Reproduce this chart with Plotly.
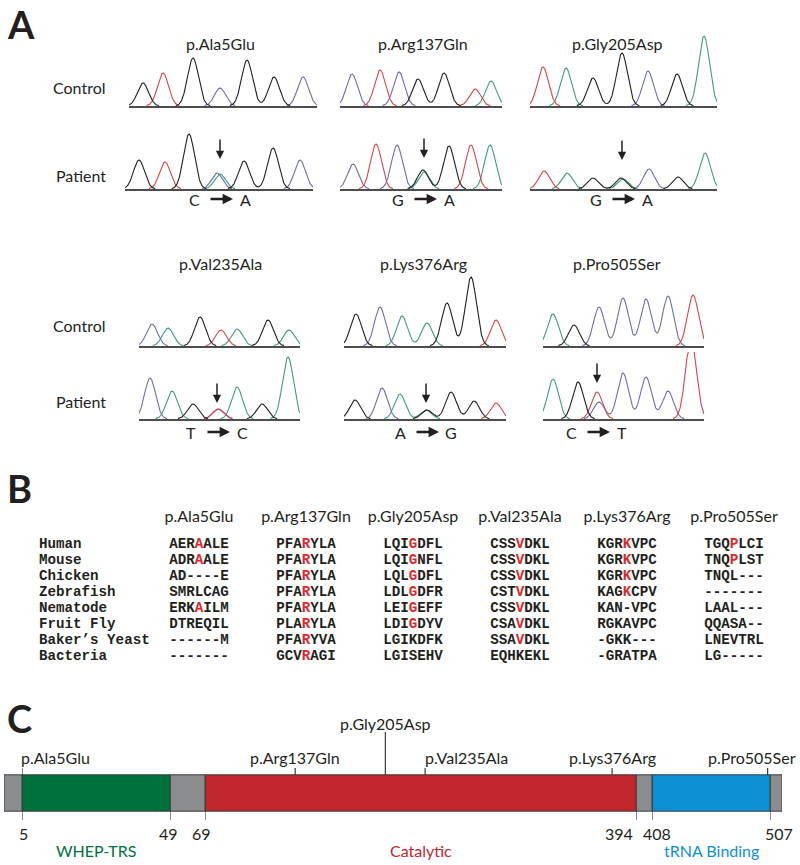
import numpy as np
import plotly.graph_objects as go

FIG_W, FIG_H = 800, 865

# ------------------------------------------------------------------ DATA
MUTATIONS = ["p.Ala5Glu", "p.Arg137Gln", "p.Gly205Asp",
             "p.Val235Ala", "p.Lys376Arg", "p.Pro505Ser"]
CHANGES = [("C", "A"), ("G", "A"), ("G", "A"), ("T", "C"), ("A", "G"), ("C", "T")]

# chromatogram peaks: base call, position (scan units), height (signal units)
ala_ctrl_bases = list("GTGCGGC")
ala_ctrl_pos = [14, 34, 64, 91, 118, 145, 174]
ala_ctrl_h = [23, 33, 48, 18, 46, 29, 29]
ala_pat_bases = list("GTGCAGGC")
ala_pat_pos = [14, 40, 64, 92, 95, 119, 148, 175]
ala_pat_h = [29, 27, 55, 16, 15, 28, 41, 29]

arg_ctrl_bases = list("CTCGGTA")
arg_ctrl_pos = [12, 40, 59, 78, 104, 135, 151]
arg_ctrl_h = [32, 36, 34, 27, 33, 17, 25]
arg_pat_bases = list("CTCGAGTA")
arg_pat_pos = [13, 36, 57, 83, 84, 109, 131, 150]
arg_pat_h = [25, 45, 44, 19, 17, 43, 44, 44]

gly_ctrl_bases = list("TAGGCGA")
gly_ctrl_pos = [13, 36, 63, 92, 118, 147, 174]
gly_ctrl_h = [39, 38, 28, 53, 35, 32, 70]
gly_pat_bases = list("TAGGACGA")
gly_pat_pos = [14, 37, 63, 91, 93, 119, 148, 175]
gly_pat_h = [18, 16, 11, 11, 10, 20, 12, 36]

val_ctrl_bases = list("CAGTAGA")
val_ctrl_pos = [13, 29, 61, 82, 98, 129, 150]
val_ctrl_h = [22, 18, 29, 16, 17, 26, 16]
val_pat_bases = list("CAGTCAGA")
val_pat_pos = [11, 33, 54, 79, 79.5, 98, 123, 149]
val_pat_h = [41, 28, 15, 10, 10, 32, 15, 62]

lys_ctrl_bases = list("GCAAGGT")
lys_ctrl_pos = [12, 36, 58, 83, 103, 127, 152]
lys_ctrl_h = [32, 39, 30, 23, 43, 69, 26]
lys_pat_bases = list("GCAAGGGT")
lys_pat_pos = [11, 38, 56, 82, 83, 107, 130, 152]
lys_pat_h = [19, 31, 25, 9, 9, 27, 18, 16]

pro_ctrl_bases = list("AGCCCCT")
pro_ctrl_pos = [10, 31, 56, 80, 103, 125, 150]
pro_ctrl_h = [32, 21, 39, 48, 47, 50, 51]
pro_pat_bases = list("AGTCCCCT")
pro_pat_pos = [10, 35, 54, 56, 80, 103, 125, 148]
pro_pat_h = [40, 37, 27, 17, 46, 42, 28, 80]

MUT_SCAN_POS = [95, 84, 92, 78, 82, 54]      # where the arrow points
ARROW_TIP = [30, 31, 29, 16, 16, 36]         # signal level of the arrow tip

# alignment (panel B)
SPECIES = ["Human", "Mouse", "Chicken", "Zebrafish", "Nematode",
           "Fruit Fly", "Baker\u2019s Yeast", "Bacteria"]
ALIGN_ALA5 = ["AERAALE", "ADRAALE", "AD----E", "SMRLCAG", "ERKAILM", "DTREQIL", "------M", "-------"]
ALIGN_ARG137 = ["PFARYLA", "PFARYLA", "PFARYLA", "PFARYLA", "PFARYLA", "PLARYLA", "PFARYVA", "GCVRAGI"]
ALIGN_GLY205 = ["LQIGDFL", "LQIGNFL", "LQLGDFL", "LDLGDFR", "LEIGEFF", "LDIGDYV", "LGIKDFK", "LGISEHV"]
ALIGN_VAL235 = ["CSSVDKL", "CSSVDKL", "CSSVDKL", "CSTVDKL", "CSSVDKL", "CSAVDKL", "SSAVDKL", "EQHKEKL"]
ALIGN_LYS376 = ["KGRKVPC", "KGRKVPC", "KGRKVPC", "KAGKCPV", "KAN-VPC", "RGKAVPC", "-GKK---", "-GRATPA"]
ALIGN_PRO505 = ["TGQPLCI", "TNQPLST", "TNQL---", "-------", "LAAL---", "QQASA--", "LNEVTRL", "LG-----"]
HL_ALA5 = [1, 1, 0, 0, 1, 0, 0, 0]
HL_ARG137 = [1, 1, 1, 1, 1, 1, 1, 1]
HL_GLY205 = [1, 1, 1, 1, 1, 1, 0, 0]
HL_VAL235 = [1, 1, 1, 1, 1, 1, 1, 0]
HL_LYS376 = [1, 1, 1, 1, 0, 0, 0, 0]
HL_PRO505 = [1, 1, 0, 0, 0, 0, 0, 0]
HL_INDEX = 3

# protein schematic (panel C)
SEG_START = [1, 5, 49, 69, 394, 408, 507]
SEG_END = [5, 49, 69, 394, 408, 507, 509]
SEG_KIND = ["linker", "WHEP-TRS", "linker", "Catalytic", "linker", "tRNA Binding", "linker"]
BOUNDARIES = [5, 49, 69, 394, 408, 507]
MUT_RESIDUES = [5, 137, 205, 235, 376, 505]
DOMAINS = ["WHEP-TRS", "Catalytic", "tRNA Binding"]

# ------------------------------------------------------------------ STYLE / LAYOUT
FONT = "Lato, 'Open Sans', sans-serif"
MONO = "'Liberation Mono', 'Courier New', monospace"
TXT = "#231f20"
BASE_COLORS = {"A": "#3a9f7c", "C": "#6e6eac", "G": "#231f20", "T": "#dc4448"}
SIGMA = 5.5
HL_RED = "#e3262b"
KIND_COLORS = {"linker": "#8b8c8e", "WHEP-TRS": "#00703c",
               "Catalytic": "#c1272d", "tRNA Binding": "#0b91d4"}


def px(v):
    return v / FIG_W


def py(v):
    return 1 - v / FIG_H


CHROMS = [
    # bases, pos, heights, (x0, x1), baseline, window height
    (ala_ctrl_bases, ala_ctrl_pos, ala_ctrl_h, (129, 317), 106, 75),
    (arg_ctrl_bases, arg_ctrl_pos, arg_ctrl_h, (340, 502), 106, 75),
    (gly_ctrl_bases, gly_ctrl_pos, gly_ctrl_h, (530, 717), 106, 75),
    (ala_pat_bases, ala_pat_pos, ala_pat_h, (125, 313), 189, 75),
    (arg_pat_bases, arg_pat_pos, arg_pat_h, (340, 502), 189, 75),
    (gly_pat_bases, gly_pat_pos, gly_pat_h, (530, 717), 189, 75),
    (val_ctrl_bases, val_ctrl_pos, val_ctrl_h, (139, 300), 346, 75),
    (lys_ctrl_bases, lys_ctrl_pos, lys_ctrl_h, (344, 506), 346, 75),
    (pro_ctrl_bases, pro_ctrl_pos, pro_ctrl_h, (543, 704), 346, 75),
    (val_pat_bases, val_pat_pos, val_pat_h, (139, 300), 419, 67),
    (lys_pat_bases, lys_pat_pos, lys_pat_h, (344, 506), 419, 67),
    (pro_pat_bases, pro_pat_pos, pro_pat_h, (543, 704), 419, 67),
]
PATIENT_IDX = [3, 4, 5, 9, 10, 11]
CHANGE_DY = [10, 10, 10, 13, 13, 13]   # px below baseline
COL_CENTERS = [220, 423, 617]
TITLE_Y = [44, 263]
ROW_LABEL_Y = [(88, 175), (325, 401)]


def ax_names(i):
    s = "" if i == 1 else str(i)
    return "x" + s, "y" + s, "xaxis" + s, "yaxis" + s


fig = go.Figure()
layout = {}
annotations = []
shapes = []

# ------------------------------------------------------------------ PANEL A
for i, (bases, pos, hts, (x0, x1), base_y, win) in enumerate(CHROMS, start=1):
    xr, yr, xk, yk = ax_names(i)
    ext = x1 - x0
    layout[xk] = dict(domain=[px(x0), px(x1)], range=[0, ext], anchor=yr,
                      showline=True, linecolor="#4d4d4f", linewidth=1.6,
                      showticklabels=False, ticks="", showgrid=False,
                      zeroline=False, fixedrange=True)
    layout[yk] = dict(domain=[py(base_y), py(base_y - win)], range=[0, win],
                      anchor=xr, visible=False, fixedrange=True)
    xs = np.linspace(0, ext, 900)
    for b in ["A", "C", "T", "G"]:
        sig = np.zeros_like(xs)
        has = False
        for bb, p, h in zip(bases, pos, hts):
            if bb == b:
                sig += h * np.exp(-0.5 * ((xs - p) / SIGMA) ** 2)
                has = True
        if not has:
            continue
        yv = [float(v) if v > 0.35 else None for v in sig]
        fig.add_trace(go.Scatter(x=xs, y=yv, mode="lines",
                                 line=dict(color=BASE_COLORS[b], width=1.1),
                                 xaxis=xr, yaxis=yr, hoverinfo="skip"))

for k, ci in enumerate(PATIENT_IDX):
    xr, yr, _, _ = ax_names(ci + 1)
    base_y = CHROMS[ci][4]
    m = MUT_SCAN_POS[k]
    annotations.append(dict(xref=xr, yref=yr, x=m, y=ARROW_TIP[k], ax=0, ay=-21,
                            showarrow=True, arrowhead=2, arrowsize=1.1,
                            arrowwidth=1.5, arrowcolor=TXT, text="", standoff=0))
    fr, to = CHANGES[k]
    cy = py(base_y + CHANGE_DY[k])
    annotations.append(dict(xref=xr, yref="paper", x=m - 26, y=cy, text=fr, showarrow=False,
                            yanchor="middle",
                            font=dict(family=FONT, size=16, color=TXT)))
    annotations.append(dict(xref=xr, yref="paper", x=m + 25, y=cy, text=to, showarrow=False,
                            yanchor="middle",
                            font=dict(family=FONT, size=16, color=TXT)))
    annotations.append(dict(xref=xr, yref="paper", x=m + 13, y=cy, ax=-24, ay=0,
                            showarrow=True, arrowhead=2, arrowsize=0.8,
                            arrowwidth=2.6, arrowcolor=TXT, text="", standoff=0))

for r in range(2):
    for c in range(3):
        annotations.append(dict(xref="paper", yref="paper", x=px(COL_CENTERS[c]),
                                y=py(TITLE_Y[r]), text=MUTATIONS[r * 3 + c],
                                showarrow=False, xanchor="center", yanchor="middle",
                                font=dict(family=FONT, size=16, color=TXT)))
    for lab, yy in zip(["Control", "Patient"], ROW_LABEL_Y[r]):
        annotations.append(dict(xref="paper", yref="paper", x=px(108), y=py(yy),
                                text=lab, showarrow=False, xanchor="right",
                                yanchor="middle",
                                font=dict(family=FONT, size=16, color=TXT)))

# ------------------------------------------------------------------ PANEL B
COL0, COLSTEP = 199, 107
ROW0, ROWSTEP = 544, 16
layout["xaxis13"] = dict(domain=[0, 1], range=[-COL0 / COLSTEP, (FIG_W - COL0) / COLSTEP],
                         anchor="y13", visible=False, fixedrange=True)
layout["yaxis13"] = dict(domain=[py(665), py(500)],
                         range=[(665 - ROW0) / ROWSTEP, (500 - ROW0) / ROWSTEP],
                         anchor="x13", visible=False, fixedrange=True)

ALIGNS = [ALIGN_ALA5, ALIGN_ARG137, ALIGN_GLY205, ALIGN_VAL235, ALIGN_LYS376, ALIGN_PRO505]
HLS = [HL_ALA5, HL_ARG137, HL_GLY205, HL_VAL235, HL_LYS376, HL_PRO505]

bx, by, bt = [], [], []
for c, (al, hl) in enumerate(zip(ALIGNS, HLS)):
    for r, (seq, h) in enumerate(zip(al, hl)):
        if h:
            s = (seq[:HL_INDEX] + '<span style="color:%s">' % HL_RED + seq[HL_INDEX]
                 + "</span>" + seq[HL_INDEX + 1:])
        else:
            s = seq
        bx.append(c)
        by.append(r)
        bt.append("<b>" + s + "</b>")
fig.add_trace(go.Scatter(x=bx, y=by, text=bt, mode="text", textposition="middle center",
                         textfont=dict(family=MONO, size=14.2, color=TXT),
                         xaxis="x13", yaxis="y13", hoverinfo="skip"))
fig.add_trace(go.Scatter(x=[(39 - COL0) / COLSTEP] * len(SPECIES),
                         y=list(range(len(SPECIES))),
                         text=["<b>" + s + "</b>" for s in SPECIES], mode="text",
                         textposition="middle right",
                         textfont=dict(family=MONO, size=14.2, color=TXT),
                         xaxis="x13", yaxis="y13", hoverinfo="skip"))
fig.add_trace(go.Scatter(x=list(range(len(MUTATIONS))),
                         y=[(518 - ROW0) / ROWSTEP] * len(MUTATIONS),
                         text=MUTATIONS, mode="text", textposition="middle center",
                         textfont=dict(family=FONT, size=16, color=TXT),
                         xaxis="x13", yaxis="y13", hoverinfo="skip"))

# ------------------------------------------------------------------ PANEL C
SEG_PX = [4, 22, 170, 205, 636, 652, 770, 782]
BAR_TOP, BAR_BOT = 775, 811
layout["yaxis14"] = dict(domain=[py(BAR_BOT + 2), py(BAR_TOP - 2)], range=[-0.55, 0.55],
                         anchor="x14", visible=False, fixedrange=True)


def seg_axis(res):
    for k, (s, e) in enumerate(zip(SEG_START, SEG_END)):
        if s <= res < e:
            return "x%d" % (14 + k)
    return "x%d" % (14 + len(SEG_START) - 1)


for k, (s, e, kind) in enumerate(zip(SEG_START, SEG_END, SEG_KIND)):
    layout["xaxis%d" % (14 + k)] = dict(domain=[px(SEG_PX[k]), px(SEG_PX[k + 1])],
                                        range=[s, e], anchor="y14", visible=False,
                                        fixedrange=True)
    fig.add_trace(go.Bar(x=[e - s], base=[s], y=[0], orientation="h", width=1,
                         marker=dict(color=KIND_COLORS[kind],
                                     line=dict(color="#3a3a3c", width=1)),
                         xaxis="x%d" % (14 + k), yaxis="y14", hoverinfo="skip"))

NUM_XSHIFT = [1, -2, -3, -17, 5, 9]
for b, xs_ in zip(BOUNDARIES, NUM_XSHIFT):
    xr = seg_axis(b)
    shapes.append(dict(type="line", xref=xr, yref="paper", x0=b, x1=b,
                       y0=py(BAR_TOP), y1=py(820), line=dict(color="#3a3a3c", width=1.2)))
    annotations.append(dict(xref=xr, yref="paper", x=b, y=py(833), text=str(b),
                            showarrow=False, xanchor="center", yanchor="middle",
                            xshift=xs_, font=dict(family=FONT, size=16, color=TXT)))

LABEL_Y = [757, 757, 723, 757, 757, 757]
TICK_TOP = [768, 768, 732, 768, 768, 768]
LABEL_ANCHOR = ["left", "center", "center", "left", "center", "center"]
LABEL_XSHIFT = [-3, 0, 0, -2, 0, -16]
for r, name, ly, tt, anc, xsh in zip(MUT_RESIDUES, MUTATIONS, LABEL_Y, TICK_TOP,
                                     LABEL_ANCHOR, LABEL_XSHIFT):
    xr = seg_axis(r)
    shapes.append(dict(type="line", xref=xr, yref="paper", x0=r, x1=r,
                       y0=py(tt), y1=py(BAR_TOP), line=dict(color="#3a3a3c", width=1.2)))
    annotations.append(dict(xref=xr, yref="paper", x=r, y=py(ly), text=name,
                            showarrow=False, xanchor=anc, yanchor="middle", xshift=xsh,
                            font=dict(family=FONT, size=16, color=TXT)))

for d in DOMAINS:
    k = SEG_KIND.index(d)
    annotations.append(dict(xref="x%d" % (14 + k), yref="paper",
                            x=(SEG_START[k] + SEG_END[k]) / 2, y=py(850), text=d,
                            showarrow=False, xanchor="center", yanchor="middle",
                            font=dict(family=FONT, size=16, color=KIND_COLORS[d])))

# ------------------------------------------------------------------ panel letters
for letter, (lx, ly) in zip("ABC", [(21, 24), (19, 488), (19, 718)]):
    annotations.append(dict(xref="paper", yref="paper", x=px(lx), y=py(ly),
                            text="<b>%s</b>" % letter, showarrow=False,
                            xanchor="center", yanchor="middle",
                            font=dict(family=FONT, size=38, color=TXT, weight=900)))

fig.update_layout(width=FIG_W, height=FIG_H, margin=dict(l=0, r=0, t=0, b=0),
                  paper_bgcolor="white", plot_bgcolor="white", showlegend=False,
                  barmode="overlay", annotations=annotations, shapes=shapes,
                  font=dict(family=FONT, color=TXT), **layout)

fig.write_html("out.html", config={"displayModeBar": False},
               post_script="document.body.style.margin='0';"
                           "document.body.style.overflow='hidden';")
